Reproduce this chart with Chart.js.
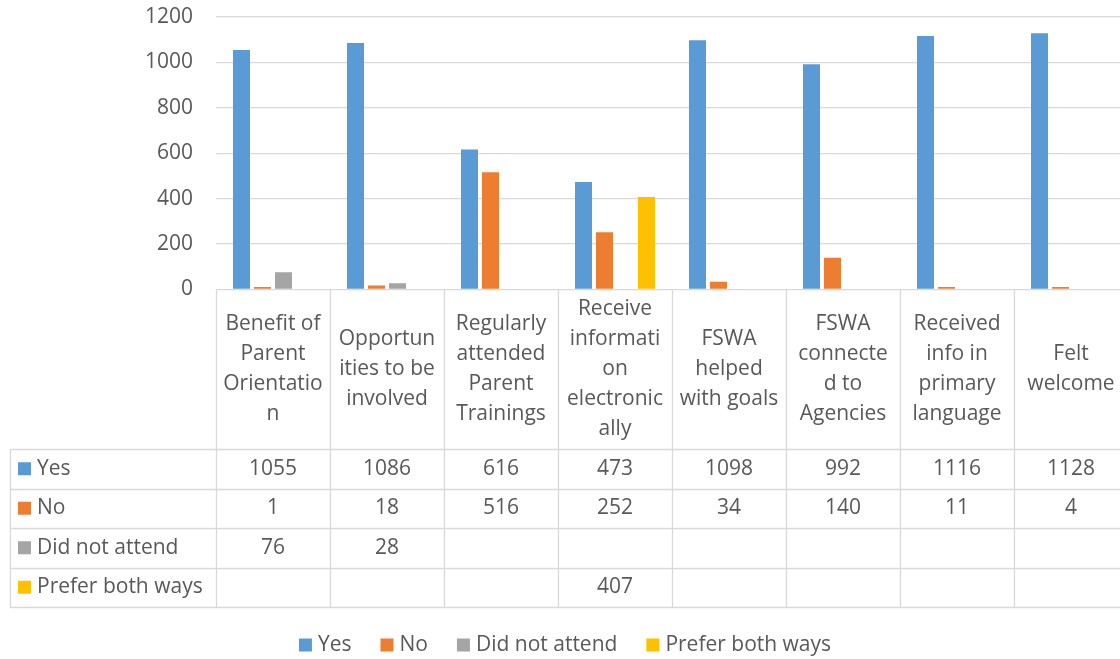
<!DOCTYPE html>
<html>
<head>
<meta charset="utf-8">
<script src="https://cdn.jsdelivr.net/npm/chart.js@4"></script>
<style>
html,body{margin:0;padding:0;background:#fff;overflow:hidden;}
#wrap{position:absolute;left:0;top:0;width:1120px;height:659px;overflow:hidden;}
canvas{display:block;}
</style>
</head>
<body>
<div id="wrap"><canvas id="c" width="1130" height="659"></canvas></div>
<script>
// ---- data ----
const categories = [
  ["Benefit of","Parent","Orientatio","n"],
  ["Opportun","ities to be","involved"],
  ["Regularly","attended","Parent","Trainings"],
  ["Receive","informati","on","electronic","ally"],
  ["FSWA","helped","with goals"],
  ["FSWA","connecte","d to","Agencies"],
  ["Received","info in","primary","language"],
  ["Felt","welcome"]
];
const seriesNames = ["Yes","No","Did not attend","Prefer both ways"];
const yesValues = [1055,1086,616,473,1098,992,1116,1128];
const noValues = [1,18,516,252,34,140,11,4];
const didNotAttendValues = [76,28,null,null,null,null,null,null];
const preferBothValues = [null,null,null,407,null,null,null,null];
const yTicks = [0,200,400,600,800,1000,1200];

const colors = ["#5B9BD5","#ED7D31","#A5A5A5","#FFC000"];
const FONT = '"Open Sans", "Noto Sans", sans-serif';
const FSIZE = 21;
const TXT = "#595959";
const GRID = "#d9d9d9";

const tablePlugin = {
  id: 'dataTable',
  afterDraw(chart) {
    const ctx = chart.ctx;
    const ca = chart.chartArea;
    const n = categories.length;
    const colW = (ca.right - ca.left) / n;
    const top = ca.bottom;
    const headBottom = 449;
    const rowH = 39.5;
    const tableLeft = 10;
    const rows = chart.data.datasets;
    const tableBottom = headBottom + rowH * rows.length;
    const px = v => Math.round(v) + 0.5;
    ctx.save();
    ctx.strokeStyle = GRID;
    ctx.lineWidth = 1.3;
    ctx.beginPath();
    for (let r = 0; r <= rows.length; r++) {
      const y = px(headBottom + r * rowH);
      ctx.moveTo(tableLeft, y); ctx.lineTo(chart.width, y);
    }
    ctx.moveTo(px(tableLeft), px(headBottom)); ctx.lineTo(px(tableLeft), px(tableBottom));
    for (let i = 0; i <= n; i++) {
      const x = px(ca.left + i * colW);
      ctx.moveTo(x, top); ctx.lineTo(x, px(tableBottom));
    }
    ctx.stroke();

    ctx.fillStyle = TXT;
    ctx.font = FSIZE + 'px ' + FONT;
    ctx.textAlign = 'center';
    ctx.textBaseline = 'middle';
    const lh = 30;
    const hc = (top + headBottom) / 2;
    chart.data.labels.forEach((lines, i) => {
      const cx = ca.left + (i + 0.5) * colW;
      const y0 = hc - (lines.length - 1) * lh / 2;
      lines.forEach((t, k) => ctx.fillText(t, cx, y0 + k * lh));
    });
    rows.forEach((ds, r) => {
      const cy = headBottom + (r + 0.5) * rowH;
      ctx.fillStyle = ds.backgroundColor;
      ctx.fillRect(18, cy - 6.5, 13, 13);
      ctx.fillStyle = TXT;
      ctx.textAlign = 'left';
      ctx.fillText(ds.label, 37, cy);
      ctx.textAlign = 'center';
      ds.data.forEach((v, i) => {
        if (v === null || v === undefined) return;
        ctx.fillText(String(v), ca.left + (i + 0.5) * colW, cy);
      });
    });
    const ly = 645;
    const box = 13, gap = 6, itemGap = 29;
    const widths = rows.map(ds => box + gap + ctx.measureText(ds.label).width);
    const total = widths.reduce((a, b) => a + b, 0) + itemGap * (rows.length - 1);
    let x = 565 - total / 2;
    ctx.textAlign = 'left';
    rows.forEach((ds, r) => {
      ctx.fillStyle = ds.backgroundColor;
      ctx.fillRect(x, ly - 6.5, box, box);
      ctx.fillStyle = TXT;
      ctx.fillText(ds.label, x + box + gap, ly);
      x += widths[r] + itemGap;
    });
    ctx.restore();
  }
};

const seriesValues = [yesValues, noValues, didNotAttendValues, preferBothValues];

new Chart(document.getElementById('c'), {
  type: 'bar',
  data: {
    labels: categories,
    datasets: seriesNames.map((name, i) => ({
      label: name,
      data: seriesValues[i],
      backgroundColor: colors[i],
      borderWidth: 0,
      minBarLength: 2.5,
      categoryPercentage: 0.737,
      barPercentage: 0.81
    }))
  },
  options: {
    responsive: false,
    animation: false,
    devicePixelRatio: 1,
    layout: { padding: { left: 0, right: 2, top: 17, bottom: 369.5 } },
    plugins: { legend: { display: false }, tooltip: { enabled: false } },
    scales: {
      x: { display: false },
      y: {
        min: 0, max: 1200,
        afterFit(scale) { scale.width = 216; scale.paddingTop = 0; scale.paddingBottom = 0; },
        afterBuildTicks(scale) { scale.ticks = yTicks.map(v => ({ value: v })); },
        grid: { color: GRID, lineWidth: 1.3, drawTicks: false },
        border: { display: false },
        ticks: { color: TXT, padding: 23, font: { family: FONT, size: FSIZE }, callback: v => String(v) }
      }
    }
  },
  plugins: [tablePlugin]
});
</script>
</body>
</html>
